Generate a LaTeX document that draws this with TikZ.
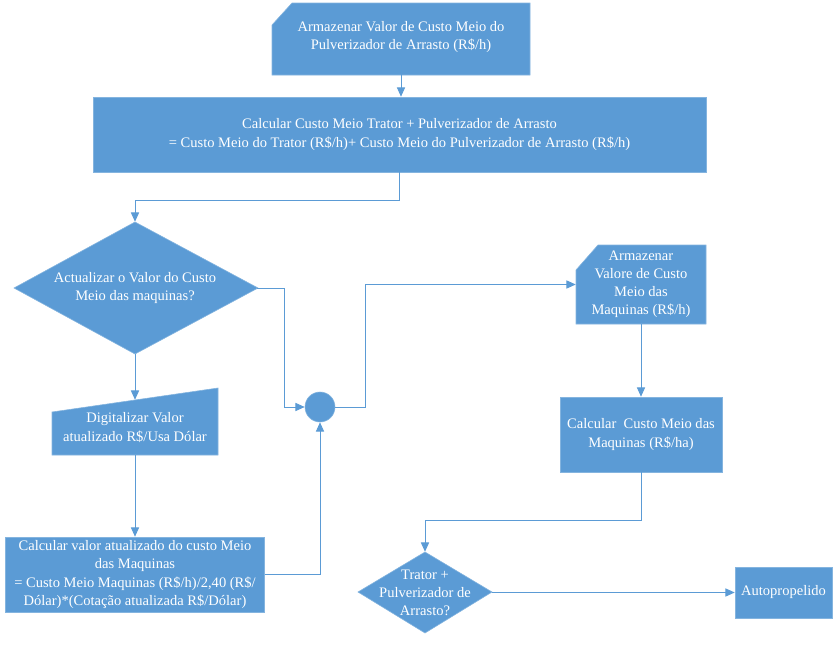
\documentclass[tikz,border=0pt]{standalone}
\usepackage{fontspec}
\setmainfont{Liberation Serif}
\usepackage{xcolor}
\usetikzlibrary{arrows.meta}
\definecolor{boxblue}{HTML}{5B9BD5}

\tikzset{
  shapefill/.style={fill=boxblue,draw=boxblue!75!white,line width=0.5pt},
  txt/.style={text=white,align=center,inner sep=0pt,font=\fontsize{12.4}{15.5}\selectfont},
  procbox/.style={txt,shapefill,rectangle},
  link/.style={draw=boxblue,line width=0.85pt},
  arr/.style={link,-{Triangle[length=8pt,width=7pt]}}
}

\begin{document}
\begin{tikzpicture}[x=0.03cm,y=-0.03cm]
\useasboundingbox (0,0) rectangle (835,645);

% armazenar (topo)
\fill[shapefill] (272,25) -- (292,3) -- (530,3) -- (530,75) -- (272,75) -- cycle;
\node[txt,minimum width=7.74cm,minimum height=2.16cm] (armaz) at (401,37)
  {Armazenar Valor de Custo Meio do\\Pulverizador de Arrasto (R\$/h)};

\node[procbox,minimum width=18.39cm,minimum height=2.25cm] (calc) at (399.5,134.5)
  {Calcular Custo Meio Trator + Pulverizador de Arrasto\\= Custo Meio do Trator (R\$/h)+ Custo Meio do Pulverizador de Arrasto (R\$/h)};

% decisao atualizar
\fill[shapefill] (14,288) -- (135,222) -- (258,288) -- (135,354) -- cycle;
\node[txt,minimum width=7.32cm,minimum height=3.96cm] (atual) at (135,288)
  {Actualizar o Valor do Custo\\Meio das maquinas?};

% entrada manual
\fill[shapefill] (52,412) -- (218,388) -- (218,455) -- (52,455) -- cycle;
\node[txt,minimum width=4.98cm,minimum height=1.65cm] (digit) at (135,427.5)
  {Digitalizar Valor\\atualizado R\$/Usa Dólar};

\node[procbox,minimum width=7.77cm,minimum height=2.25cm] (ajuste) at (135,574.5)
  {Calcular valor atualizado do custo Meio\\das Maquinas\\= Custo Meio Maquinas (R\$/h)/2,40 (R\$/\\Dólar)*(Cotação atualizada R\$/Dólar)};

\node[shapefill,circle,minimum size=0.9cm,inner sep=0pt] (junc) at (320,407) {};

% armazenar maquinas
\fill[shapefill] (576,270) -- (598,245) -- (706,245) -- (706,324) -- (576,324) -- cycle;
\node[txt,minimum width=3.9cm,minimum height=2.37cm] (armazm) at (641,284.5)
  {Armazenar\\Valore de Custo\\Meio das\\Maquinas (R\$/h)};

\node[procbox,minimum width=4.86cm,minimum height=2.25cm] (custo) at (641,434.5)
  {Calcular~ Custo Meio das\\Maquinas (R\$/ha)};

% decisao trator
\fill[shapefill] (358,592) -- (425,552) -- (492,592) -- (425,633) -- cycle;
\node[txt,minimum width=4.02cm,minimum height=2.43cm] (trator) at (425,592.5)
  {Trator +\\Pulverizador de\\Arrasto?};

\node[procbox,minimum width=2.91cm,minimum height=1.53cm] (auto) at (783.5,592.5)
  {Autopropelido};

\draw[arr] (armaz.south) -- (armaz.south |- calc.north);
\draw[arr] (calc.south) -- ++(0,28) -| (atual.north);
\draw[arr] (atual.south) -- (digit.north);
\draw[arr] (digit.south) -- (ajuste.north);
\draw[arr] (ajuste.east) -| (junc.south);
\draw[arr] (atual.east) -- ++(27,0) |- (junc.west);
\draw[arr] (junc.east) -- ++(30,0) |- (armazm.west);
\draw[arr] (armazm.south) -- (custo.north);
\draw[arr] (custo.south) -- ++(0,48) -| (trator.north);
\draw[arr] (trator.east) -- (auto.west);
\end{tikzpicture}
\end{document}
